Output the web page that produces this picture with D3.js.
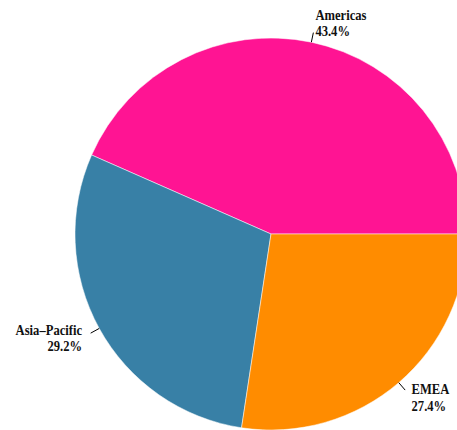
<!DOCTYPE html>
<html>
<head>
<meta charset="utf-8">
<script src="https://cdn.jsdelivr.net/npm/d3@7"></script>
<style>
  html, body { margin: 0; padding: 0; background: #fff; }
  svg { display: block; }
  .lbl { font-family: "Liberation Serif", "Times New Roman", serif; font-weight: bold; font-size: 15px; fill: #111; }
</style>
</head>
<body>
<svg id="chart" width="457" height="430"></svg>
<script>
// Regional share of total, in percent
const regions = ["Americas", "Asia\u2013Pacific", "EMEA"];
const shares = [43.4, 29.2, 27.4];
const sliceColors = ["#ff1493", "#3880a6", "#ff8c00"];

const width = 457, height = 430;
const cx = 271, cy = 234, radius = 196;

const svg = d3.select("#chart");
const g = svg.append("g").attr("transform", `translate(${cx},${cy})`);

const data = regions.map((name, i) => ({ name, value: shares[i], color: sliceColors[i] }));

// Slices run counter-clockwise starting from 3 o'clock
const pie = d3.pie()
  .value(d => d.value)
  .sort(null)
  .startAngle(Math.PI / 2)
  .endAngle(Math.PI / 2 - 2 * Math.PI);

const arcs = pie(data);
const arc = d3.arc().innerRadius(0).outerRadius(radius);

g.selectAll("path.slice")
  .data(arcs)
  .join("path")
  .attr("class", "slice")
  .attr("d", arc)
  .attr("fill", d => d.data.color)
  .attr("stroke", "#ffffff")
  .attr("stroke-width", 0.5);

// Point at a given radius along a slice's middle angle
const polar = (a, r) => [r * Math.sin(a), -r * Math.cos(a)];
const midAngle = d => (d.startAngle + d.endAngle) / 2;

// Short leader ticks just outside the rim
g.selectAll("line.leader")
  .data(arcs)
  .join("line")
  .attr("class", "leader")
  .each(function(d) {
    const a = midAngle(d);
    const p0 = polar(a, radius * 1.0);
    const p1 = polar(a, radius * 1.05);
    d3.select(this)
      .attr("x1", p0[0]).attr("y1", p0[1])
      .attr("x2", p1[0]).attr("y2", p1[1]);
  })
  .attr("stroke", "#000")
  .attr("stroke-width", 1);

// Two-line labels: region name and percent
const lineGap = 16.3, capH = 10, squeeze = 0.84;
const labels = g.selectAll("g.label")
  .data(arcs)
  .join("g")
  .attr("class", "label")
  .attr("transform", d => {
    const p = polar(midAngle(d), radius * 1.1);
    return `translate(${p[0]},${p[1]}) scale(${squeeze},1)`;
  });

labels.each(function(d) {
  const p = polar(midAngle(d), radius * 1.1);
  const anchor = p[0] >= 0 ? "start" : "end";
  const sel = d3.select(this);
  sel.append("text")
    .attr("class", "lbl")
    .attr("text-anchor", anchor)
    .attr("y", -lineGap / 2 + capH / 2)
    .text(d.data.name);
  sel.append("text")
    .attr("class", "lbl")
    .attr("text-anchor", anchor)
    .attr("y", lineGap / 2 + capH / 2)
    .text(d3.format(".1f")(d.data.value) + "%");
});
</script>
</body>
</html>
